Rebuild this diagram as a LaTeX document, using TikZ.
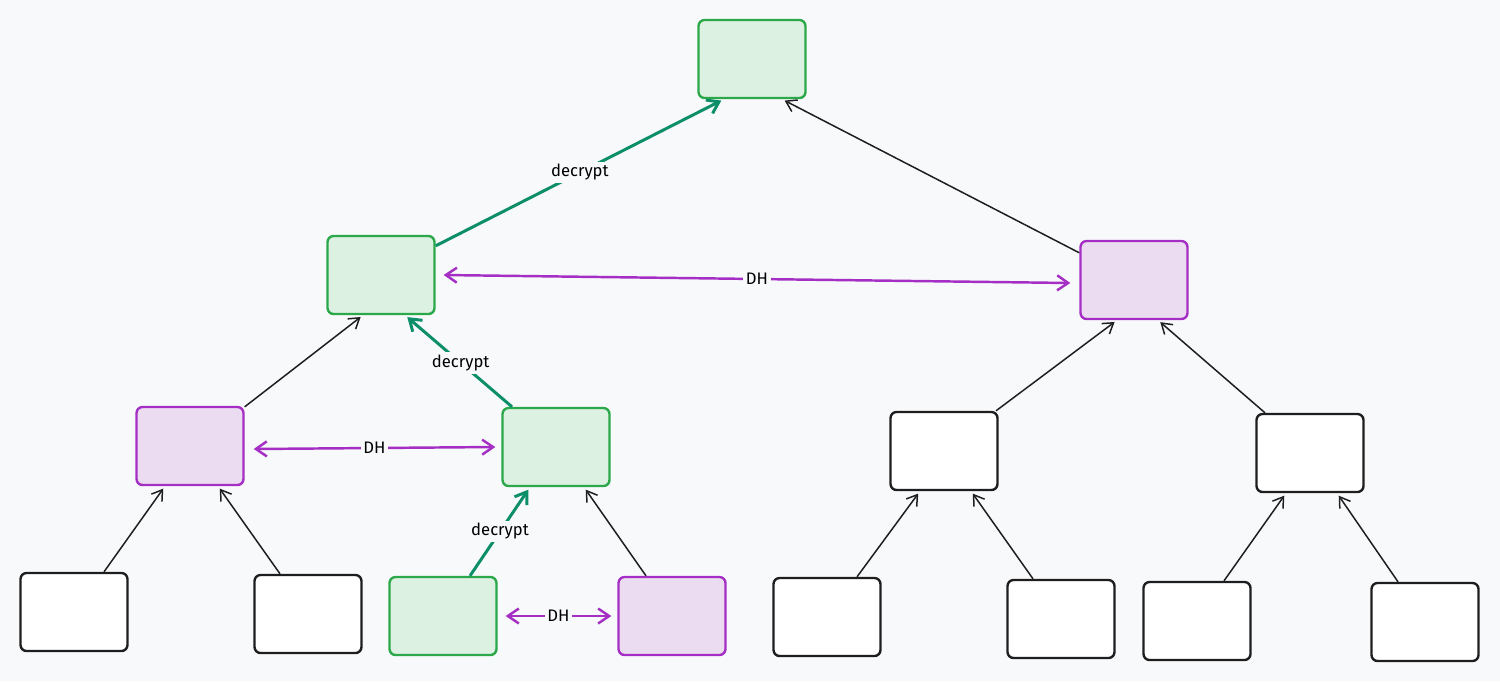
\documentclass[tikz,border=0pt]{standalone}
\usepackage{fontspec}
\setmainfont{Fira Sans}
\usetikzlibrary{arrows.meta}
\definecolor{bgcol}{HTML}{F8F9FB}
\definecolor{grnline}{HTML}{2BA84A}
\definecolor{grnfill}{HTML}{DDF1E2}
\definecolor{purline}{HTML}{A52FC4}
\definecolor{purfill}{HTML}{ECDCF1}
\definecolor{decline}{HTML}{0C8E68}
\definecolor{inkcol}{HTML}{1E1E1E}

\begin{document}
\begin{tikzpicture}[x=0.02cm,y=-0.02cm,
plain/.style={draw=inkcol,line width=1.35pt,rounded corners=1.2mm,minimum width=2.14cm,minimum height=1.56cm,fill=white},
grn/.style={plain,draw=grnline,fill=grnfill},
pur/.style={plain,draw=purline,fill=purfill},
up/.style={-{Straight Barb[length=2mm,width=2.6mm]},line width=0.85pt,color=inkcol,shorten >=0.6mm},
dec/.style={-{Straight Barb[length=2.2mm,width=3mm]},line width=1.7pt,color=decline,shorten >=0.6mm},
dh/.style={{Straight Barb[length=2.2mm,width=3mm]}-{Straight Barb[length=2.2mm,width=3mm]},line width=1.4pt,color=purline},
lbl/.style={fill=bgcol,text=black,inner sep=1.5pt,font=\fontsize{9.5}{10}\selectfont}
]
\fill[bgcol] (0,0) rectangle (1500,681);
\useasboundingbox (0,0) rectangle (1500,681);
% tree levels
\node[grn] (root) at (752,59) {};
\node[grn] (lgrp) at (381,275) {};
\node[pur] (rgrp) at (1134,280) {};
\node[pur] (lla) at (190,446) {};
\node[grn] (llb) at (556,447) {};
\node[plain] (rra) at (944,451) {};
\node[plain] (rrb) at (1310,453) {};
\node[plain] (leafa) at (74,612) {};
\node[plain] (leafb) at (308,614) {};
\node[grn] (leafc) at (443,616) {};
\node[pur] (leafd) at (672,616) {};
\node[plain] (leafe) at (827,617) {};
\node[plain] (leaff) at (1061,619) {};
\node[plain] (leafg) at (1197,621) {};
\node[plain] (leafh) at (1425,622) {};
% upward arrows
\draw[dec] ([shift={(0,11)}]lgrp.north east) -- node[lbl,pos=0.5]{decrypt} ([shift={(-28,0)}]root.south);
\draw[up] ([shift={(0,13)}]rgrp.north west) -- ([shift={(30,0)}]root.south);
\draw[up] ([shift={(0,1)}]lla.north east) -- ([shift={(-18,0)}]lgrp.south);
\draw[dec] ([shift={(-44,0)}]llb.north) -- node[lbl,pos=0.48]{decrypt} ([shift={(24,0)}]lgrp.south);
\draw[up] ([shift={(52,0)}]rra.north) -- ([shift={(-17,0)}]rgrp.south);
\draw[up] ([shift={(-45,0)}]rrb.north) -- ([shift={(24,0)}]rgrp.south);
\draw[up] ([shift={(30,0)}]leafa.north) -- ([shift={(-25,0)}]lla.south);
\draw[up] ([shift={(-28,0)}]leafb.north) -- ([shift={(28,0)}]lla.south);
\draw[dec] ([shift={(27,0)}]leafc.north) -- node[lbl,pos=0.5]{decrypt} ([shift={(-26,0)}]llb.south);
\draw[up] ([shift={(-26,0)}]leafd.north) -- ([shift={(28,0)}]llb.south);
\draw[up] ([shift={(30,0)}]leafe.north) -- ([shift={(-24,0)}]rra.south);
\draw[up] ([shift={(-28,0)}]leaff.north) -- ([shift={(27,0)}]rra.south);
\draw[up] ([shift={(27,0)}]leafg.north) -- ([shift={(-24,0)}]rrb.south);
\draw[up] ([shift={(-27,0)}]leafh.north) -- ([shift={(27,0)}]rrb.south);
% key exchange
\draw[dh] ([shift={(8,0)}]lgrp.east) -- node[lbl]{DH} ([shift={(-9,3)}]rgrp.west);
\draw[dh] ([shift={(9,3)}]lla.east) -- node[lbl]{DH} ([shift={(-6,0)}]llb.west);
\draw[dh] ([shift={(8,0)}]leafc.east) -- node[lbl]{DH} ([shift={(-6,0)}]leafd.west);
\end{tikzpicture}
\end{document}
